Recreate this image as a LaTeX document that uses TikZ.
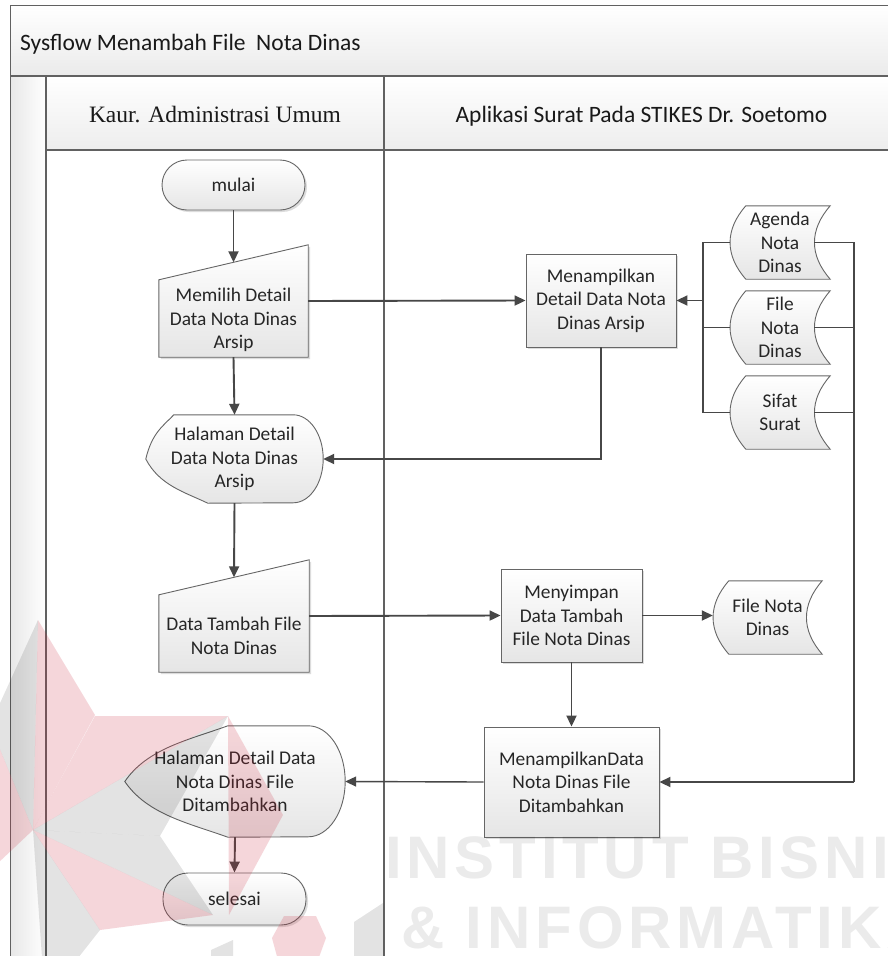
\documentclass[tikz,border=0pt]{standalone}
\usepackage{fontspec}
\setmainfont{Carlito}
\newfontfamily\headserif{Liberation Serif}
\newfontfamily\markfont{Liberation Sans}[LetterSpace=8]
\usetikzlibrary{arrows.meta,calc,shadows}
\pgfdeclarelayer{back}
\pgfdeclarelayer{shapes}
\pgfsetlayers{back,shapes,main}

% manual input: slanted top edge
\newcommand{\manualinput}[1]{%
  \path[shd] ([shift={(2,2)}]#1.south west) -- ([shift={(2,2)}]#1.south east)
    -- ([shift={(2,2)}]#1.north east) -- ([shift={(2,37)}]#1.north west) -- cycle;
  \path[shp] (#1.south west) -- (#1.south east) -- (#1.north east)
    -- ([shift={(0,35)}]#1.north west) -- cycle;}
% stored data: both sides bowed to the left
\newcommand{\storeshape}[1]{%
  \path[shp] ([shift={(16,0)}]#1.north west) -- (#1.north east)
    .. controls ([shift={(-21,24)}]#1.north east) and ([shift={(-21,-24)}]#1.south east) .. (#1.south east)
    -- ([shift={(16,0)}]#1.south west)
    .. controls ([shift={(-5,-24)}]#1.south west) and ([shift={(-5,24)}]#1.north west) .. ([shift={(16,0)}]#1.north west)
    -- cycle;}
% display: pointed left side, round right side
% #2 / #3 length of the upper / lower left curve, #4 half height, #5 right radius
\newcommand{\dispshape}[5]{%
  \path[shp] (#1.west)
    .. controls ([shift={({0.22*#2},{-0.6*#4})}]#1.west) and ([shift={({0.63*#2},{0.25*#4})}]#1.north west)
    .. ([shift={(#2,0)}]#1.north west) -- ([shift={(-#5,0)}]#1.north east)
    arc[start angle=90, end angle=-90, x radius=#5pt, y radius=#4pt]
    -- ([shift={(#3,0)}]#1.south west)
    .. controls ([shift={({0.63*#3},{-0.25*#4})}]#1.south west) and ([shift={({0.22*#3},{0.6*#4})}]#1.west)
    .. (#1.west) -- cycle;}

\tikzset{
  lbl/.style={font=\fontsize{19.4}{23.5}\selectfont, text=black!85, align=center, inner sep=0pt},
  boxed/.style={lbl, draw=black!60, line width=0.9pt, top color=white, bottom color=black!10,
    drop shadow={shadow xshift=2pt, shadow yshift=-2pt, fill=black!30, opacity=.45}},
  proc/.style={boxed, rectangle},
  term/.style={boxed, rectangle, rounded corners=25pt},
  area/.style={lbl, draw=none, rectangle},
  cell/.style={draw=black!62, line width=1.3pt},
  shp/.style={draw=black!60, line width=0.9pt, top color=white, bottom color=black!10},
  shd/.style={fill=black!30, opacity=.45},
  link/.style={draw=black!72, line width=1.9pt},
  flow/.style={link, -{Triangle[length=11pt,width=10pt]}},
  head/.style={font=\fontsize{23.5}{28}\selectfont, text=black!90, inner sep=0pt},
  wmark/.style={font=\markfont\bfseries\fontsize{60}{60}\selectfont, text=black, opacity=.08, inner sep=0pt, anchor=base west},
  wred/.style={fill={rgb,255:red,205;green,40;blue,60}, opacity=.19},
  wgrey/.style={fill=black, opacity=.11},
}

\begin{document}
\begin{tikzpicture}[x=1pt, y=-1pt]
\useasboundingbox (0,0) rectangle (888,956);
\clip (0,0) rectangle (888,956);

% ---- pool, lanes and headings ----
\begin{pgfonlayer}{back}
  \fill[white] (0,0) rectangle (888,956);
  \path[cell, top color=white, bottom color=black!8] (10.5,5.5) rectangle (900,76);
  \path[cell, left color=black!9, right color=white] (10.5,76) rectangle (46,970);
  \path[cell, top color=white, bottom color=black!7] (46,76) rectangle (384,150);
  \path[cell, top color=white, bottom color=black!7] (384,76) rectangle (900,150);
  \path[cell, fill=white] (46,150) rectangle (384,970);
  \path[cell, fill=white] (384,150) rectangle (900,970);
\end{pgfonlayer}
\node[head, anchor=base west] (title) at (20,50) {Sysflow Menambah File\ \ Nota Dinas};
\node[head, anchor=base, font=\headserif\fontsize{23.5}{28}\selectfont] (laneA) at (215,122) {Kaur. Administrasi Umum};
\node[head, anchor=base] (laneB) at (641.5,122) {Aplikasi Surat Pada STIKES Dr. Soetomo};

% ---- nodes ----
\node[term, minimum width=143pt, minimum height=50pt] (st) at (233.5,185) {mulai};
\node[area, minimum width=149pt, minimum height=112pt] (m1) at (233.5,301) {};
\node[lbl] (m1t) at (233.5,320) {Memilih Detail\\Data Nota Dinas\\Arsip};
\node[proc, minimum width=150pt, minimum height=93pt] (md) at (601,300.5) {Menampilkan\\Detail Data Nota\\Dinas Arsip};
\node[area, minimum width=100pt, minimum height=73pt] (s1) at (780,242.5) {Agenda\\Nota\\Dinas};
\node[area, minimum width=100pt, minimum height=73pt] (s2) at (780,327.5) {File\\Nota\\Dinas};
\node[area, minimum width=100pt, minimum height=73pt] (s3) at (780,412.5) {Sifat\\Surat};
\node[area, minimum width=177pt, minimum height=88pt] (h1) at (234.5,459) {Halaman Detail\\Data Nota Dinas\\Arsip};
\node[area, minimum width=150pt, minimum height=112pt] (m2) at (234,616) {};
\node[lbl] (m2t) at (234,636) {Data Tambah File\\Nota Dinas};
\node[proc, minimum width=141pt, minimum height=93pt] (ms) at (571.5,615.5) {Menyimpan\\Data Tambah\\File Nota Dinas};
\node[area, minimum width=109pt, minimum height=73pt] (fs) at (767.5,617.5) {File Nota\\Dinas};
\node[proc, minimum width=175pt, minimum height=110pt] (mf) at (571.5,782) {MenampilkanData\\Nota Dinas File\\Ditambahkan};
\node[area, minimum width=220pt, minimum height=111pt] (h2) at (235,781.5) {Halaman Detail Data\\Nota Dinas File\\Ditambahkan};
\node[term, minimum width=143pt, minimum height=52pt] (se) at (234.5,899) {selesai};

\begin{pgfonlayer}{shapes}
  \manualinput{m1}
  \manualinput{m2}
  \storeshape{s1}
  \storeshape{s2}
  \storeshape{s3}
  \storeshape{fs}
  \dispshape{h1}{28}{62}{44}{30}
  \dispshape{h2}{103}{103}{55.5}{37}
\end{pgfonlayer}

% ---- connectors ----
\coordinate (bl) at (703,300.5);
\coordinate (br) at (854,782);
\draw[flow] (st.south) -- ([shift={(0,17.5)}]m1.north);
\draw[flow] (m1.east) -- (md.west);
\draw[link] (s1.west) -| (bl) |- (s3.west);
\draw[link] (s2.west) -- (s2.west -| bl);
\draw[flow] (bl) -- (md.east);
\draw[link] ([shift={(-16,0)}]s1.east) -| (br);
\draw[link] ([shift={(-16,0)}]s2.east) -- (s2.east -| br);
\draw[link] ([shift={(-16,0)}]s3.east) -- (s3.east -| br);
\draw[flow] (br) -- (mf.east);
\draw[flow] (md.south) |- (h1.east);
\draw[flow] (m1.south) -- (h1.north);
\draw[flow] (h1.south) -- ([shift={(0,17.5)}]m2.north);
\draw[flow] (m2.east) -- (ms.west);
\draw[flow] (ms.east) -- (ms.east -| fs.west);
\draw[flow] (ms.south) -- (mf.north);
\draw[flow, line width=1.4pt] (mf.west) -- (h2.east);
\draw[flow] (h2.south) -- (se.north);

% ---- watermark emblem (faceted star) ----
\fill[wred]  (33,830) -- (38,620) -- (95,715) -- cycle;
\fill[wgrey] (33,830) -- (38,620) -- (-10,725) -- cycle;
\fill[wred]  (33,830) -- (95,716) -- (228,716) -- cycle;
\fill[wgrey] (33,830) -- (228,716) -- (160,836) -- cycle;
\fill[wgrey] (33,830) -- (160,836) -- (213,915) -- cycle;
\fill[wred]  (33,830) -- (213,915) -- (100,930) -- cycle;
\fill[wgrey] (33,830) -- (100,930) -- (45,1000) -- cycle;
\fill[wred]  (33,830) -- (-10,725) -- (-20,880) -- cycle;
\fill[wred]  (228,716) -- (283,815) -- (229,915) -- cycle;
\fill[wred]  (284,916) -- (316,916) -- (326,938) -- (318,960) -- (278,960) -- (272,938) -- cycle;
\fill[wgrey] (211,950) -- (233,940) -- (233,960) -- (211,960) -- cycle;
\fill[wgrey] (354,922) -- (383,903) -- (383,960) -- (354,960) -- cycle;

% ---- watermark lettering ----
\node[wmark] (wm1) at (385,878) {INSTITUT BISNIS};
\node[wmark] (wm2) at (401,948) {\&\ INFORMATIKA};
\end{tikzpicture}
\end{document}
